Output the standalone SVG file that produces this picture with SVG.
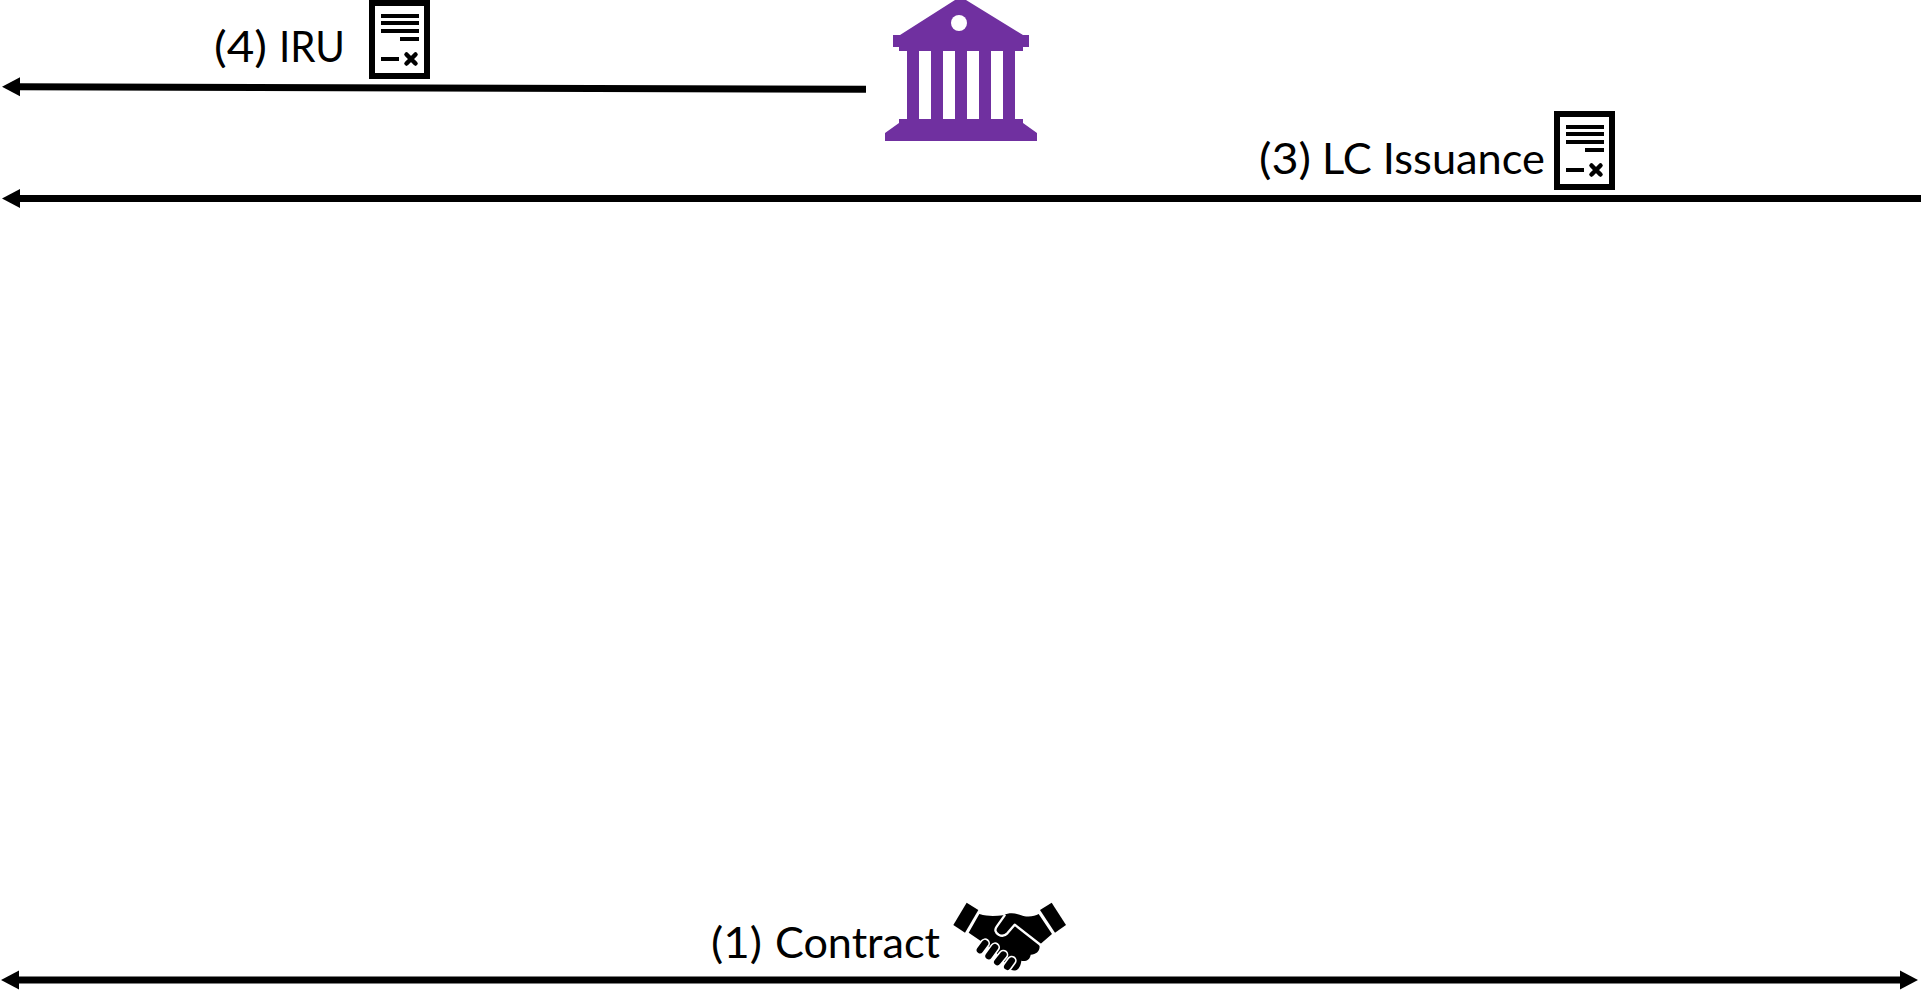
<svg xmlns="http://www.w3.org/2000/svg" width="1921" height="995" viewBox="0 0 1921 995">
<style>
.lbl{font-family:"Lato","Carlito","Liberation Sans",sans-serif;font-size:42px;fill:#000}
.wire{stroke:#000;stroke-width:7;fill:none}
.bar{fill:#000}
.gap{fill:none;stroke:#fff;stroke-width:7;stroke-linecap:round;stroke-linejoin:round}
.pill{fill:none;stroke:#fff;stroke-width:30;stroke-linecap:round}
.pillk{fill:none;stroke:#000;stroke-width:20;stroke-linecap:round}
</style>
<defs>
<g id="doc">
<rect x="372" y="3" width="55" height="73" fill="#fff" stroke="#000" stroke-width="6"/>
<rect class="bar" x="381" y="14" width="38" height="4"/>
<rect class="bar" x="381" y="21" width="38" height="4"/>
<rect class="bar" x="381" y="29" width="38" height="4"/>
<rect class="bar" x="400" y="37" width="19" height="4"/>
<rect class="bar" x="381" y="57" width="18" height="4"/>
<path d="M406.500 54.500L415.500 63.500M415.500 54.500L406.500 63.500" stroke="#000" stroke-width="4.500" stroke-linecap="round"/>
</g>
</defs>
<rect width="1921" height="995" fill="#fff"/>
<g id="connectors">
<path class="wire" d="M866 89.300L18 86.800"/>
<path d="M2 86.700L20 77.200V96.200Z"/>
<path class="wire" d="M1921 198.500H18"/>
<path d="M2 198.500L20 189V208Z"/>
<path class="wire" d="M18 980H1903"/>
<path d="M1 980L19 970.500V989.500Z"/>
<path d="M1918 980L1900 970.500V989.500Z"/>
</g>
<g id="label-iru"><text class="lbl" y="62"><tspan x="214" textLength="53" lengthAdjust="spacingAndGlyphs">(4)</tspan> <tspan x="279" textLength="66" lengthAdjust="spacingAndGlyphs">IRU</tspan></text></g>
<g id="doc-iru"><use href="#doc"/></g>
<g id="bank">
<path fill="#7030A0" d="M955 0H966L1023 35H1029V47H1023V51H1015V119H1023V123L1037 133V141H885V133L899 123V119H907V51H899V47H893V35H900ZM919 51V119H931V51ZM943 51V119H955V51ZM967 51V119H979V51ZM991 51V119H1003V51Z" fill-rule="evenodd"/>
<circle cx="959" cy="23" r="8" fill="#fff"/>
</g>
<g id="label-lc"><text class="lbl" y="174"><tspan x="1259" textLength="52" lengthAdjust="spacingAndGlyphs">(3)</tspan> <tspan x="1322" textLength="223" lengthAdjust="spacingAndGlyphs">LC Issuance</tspan></text></g>
<g id="doc-lc"><use href="#doc" transform="translate(1185 111)"/></g>
<g id="label-contract"><text class="lbl" y="958"><tspan x="711" textLength="51" lengthAdjust="spacingAndGlyphs">(1)</tspan> <tspan x="775" textLength="165" lengthAdjust="spacingAndGlyphs">Contract</tspan></text></g>
<g id="handshake" transform="translate(940 890) scale(.33333)">
<path d="M80 38L115 60L75 128L40 105Z"/>
<path d="M335 38L300 60L345 128L378 105Z"/>
<path d="M118 72C145 80 165 78 190 76C210 66 230 70 250 78C270 82 285 78 296 72L336 132L298 165C302 182 290 194 272 194C270 210 256 216 244 212C242 232 232 246 214 240L170 190L118 150L86 128Z"/>
<path class="gap" d="M194 76L170 110Q160 124 176 134Q190 142 202 130L224 104L302 165"/>
<path class="pill" d="M120 180L135 160M146 198L165 172M172 216L190 194M202 230L215 212"/>
<path class="pillk" d="M120 180L135 160M146 198L165 172M172 216L190 194M202 230L215 212"/>
</g>
</svg>
